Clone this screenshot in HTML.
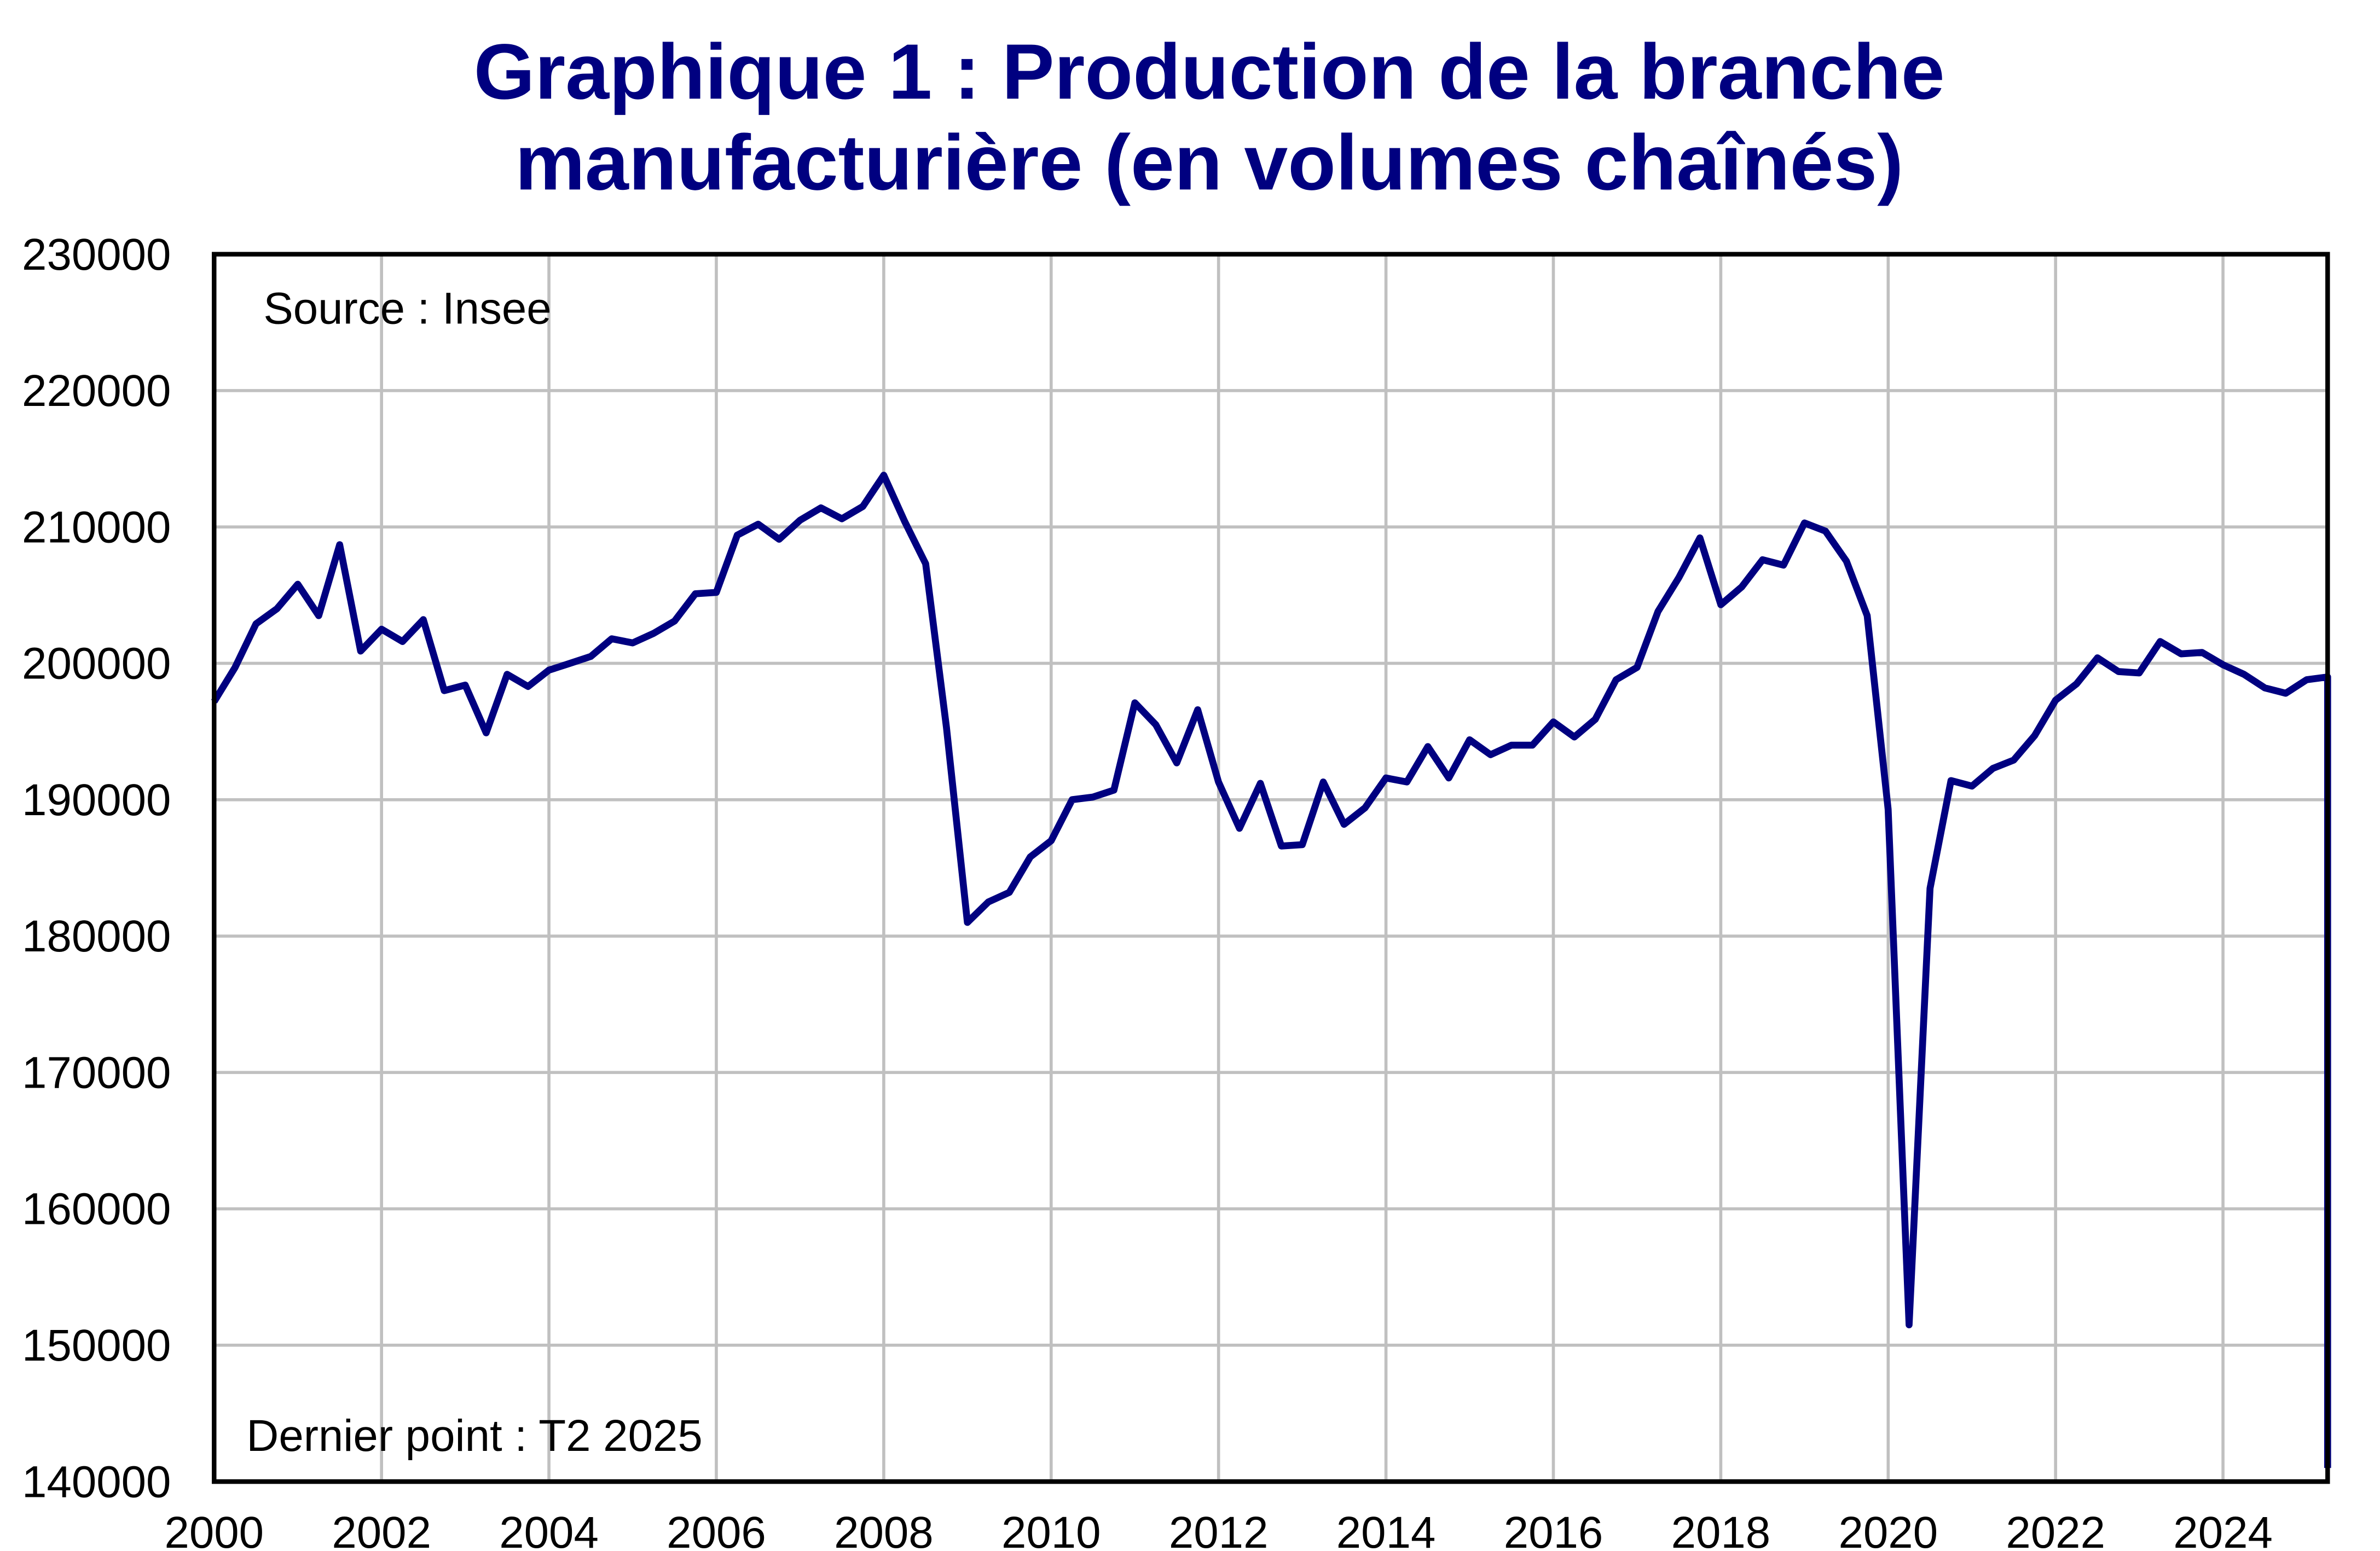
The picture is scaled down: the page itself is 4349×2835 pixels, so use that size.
<!DOCTYPE html>
<html><head><meta charset="utf-8"><style>html,body{margin:0;padding:0;background:#fff}svg{display:block}</style></head>
<body>
<svg id="s" width="4349" height="2835" viewBox="0 0 1545 1007" xmlns="http://www.w3.org/2000/svg" font-family="Liberation Sans, Arial, sans-serif">
<rect width="1545" height="1007" fill="#fff"/>
<text x="785" y="64" text-anchor="middle" font-size="51" font-weight="bold" fill="#000080">Graphique 1 : Production de la branche</text>
<text x="785" y="123" text-anchor="middle" font-size="51" font-weight="bold" fill="#000080">manufacturière (en volumes chaînés)</text>
<g id="grid" stroke="#c0c0c0" stroke-width="2"></g>
<g id="labels" font-size="29" fill="#000"></g>
<text x="171" y="210" font-size="29">Source : Insee</text>
<text x="160" y="942" font-size="29">Dernier point : T2 2025</text>
<polyline id="line" fill="none" stroke="#000080" stroke-width="4.5" stroke-linejoin="round"/>
<rect x="139" y="165" width="1372" height="797" fill="none" stroke="#000" stroke-width="3"/>
</svg>
<script>
var L=139,R=1511,T=165,B=962;
function X(t){return L+t*(R-L)/25.25}
function Y(v){return B-(v-140000)*(B-T)/90000}
var g=document.getElementById('grid'),lb=document.getElementById('labels'),ns='http://www.w3.org/2000/svg';
for(var v=140000;v<=230000;v+=10000){var y=Y(v);
 if(v>140000&&v<230000){var l=document.createElementNS(ns,'line');l.setAttribute('x1',L);l.setAttribute('x2',R);l.setAttribute('y1',y);l.setAttribute('y2',y);g.appendChild(l);}
 var t=document.createElementNS(ns,'text');t.setAttribute('x',111);t.setAttribute('y',y+10);t.setAttribute('text-anchor','end');t.textContent=v;lb.appendChild(t);}
for(var yr=2000;yr<=2024;yr+=2){var x=X(yr-2000);
 if(yr>2000){var l=document.createElementNS(ns,'line');l.setAttribute('x1',x);l.setAttribute('x2',x);l.setAttribute('y1',T);l.setAttribute('y2',B);g.appendChild(l);}
 var t=document.createElementNS(ns,'text');t.setAttribute('x',x);t.setAttribute('y',B+43);t.setAttribute('text-anchor','middle');t.textContent=yr;lb.appendChild(t);}
var d=[197200,199700,202900,204000,205800,203500,208700,200900,202500,201600,203200,198000,198400,194900,199200,198300,199500,200000,200500,201800,201500,202200,203100,205100,205200,209400,210200,209100,210500,211400,210600,211500,213800,210400,207300,195300,181000,182500,183200,185800,187000,190000,190200,190700,197100,195500,192700,196600,191300,187900,191200,186600,186700,191300,188200,189400,191600,191300,193900,191600,194400,193300,194000,194000,195700,194600,195900,198800,199700,203800,206300,209200,204300,205600,207600,207200,210300,209700,207500,203500,189300,151500,183500,191400,191000,192300,192900,194700,197300,198500,200400,199400,199300,201600,200700,200800,199900,199200,198200,197800,198800,199000];
var p=d.map(function(v,i){return X(i*0.25).toFixed(1)+','+Y(v).toFixed(1)});
p.push(R+','+Y(141000));
document.getElementById('line').setAttribute('points',p.join(' '));
</script>
</body></html>
